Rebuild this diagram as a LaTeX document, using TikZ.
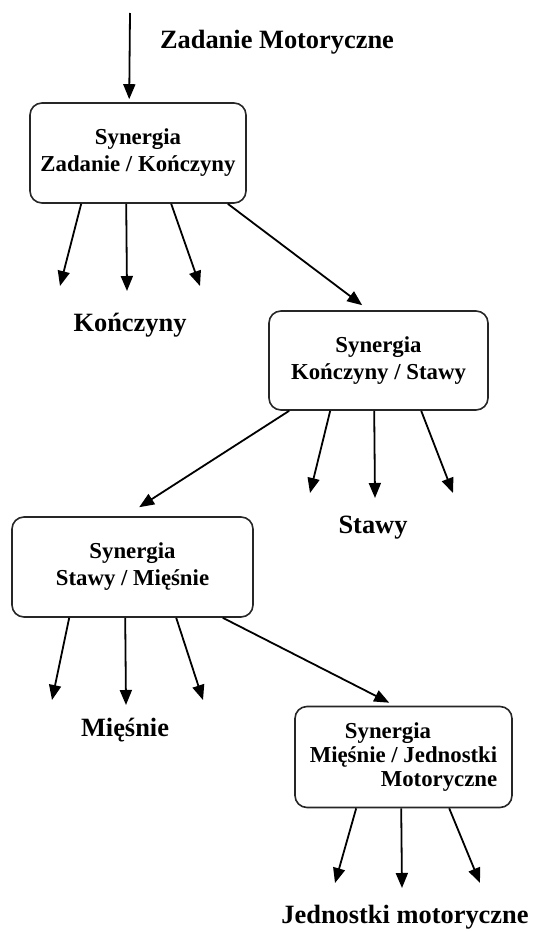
\documentclass[tikz,border=0pt]{standalone}
\usepackage{fontspec}
\setmainfont{Liberation Serif}
\usetikzlibrary{calc, positioning, arrows.meta}
\tikzset{
  arr/.style={-{Triangle[length=7.5pt,width=6pt]}, line width=0.9pt},
}

\begin{document}
\begin{tikzpicture}[x=0.5pt,y=-0.5pt]
\tikzstyle{synbox} = [draw=black!85, line width=0.8pt, rounded corners=6pt, align=center, inner sep=0pt, font=\bfseries\fontsize{11.4}{13.5}\selectfont]
\tikzstyle{lbl} = [font=\bfseries\fontsize{13.2}{15}\selectfont, inner sep=0pt]
\useasboundingbox (0,0) rectangle (532,932);

\node[synbox, minimum width=108pt, minimum height=50pt] (b1) at (138,153) {Synergia\\Zadanie / Kończyny};
\node[synbox, minimum width=109.5pt, minimum height=49.5pt] (b2) at (378.5,360.5) {Synergia\\Kończyny / Stawy};
\node[synbox, minimum width=120.5pt, minimum height=50pt] (b3) at (132.5,567) {Synergia\\Stawy / Mięśnie};
\node[synbox, minimum width=108.5pt, minimum height=50.5pt, align=right,
  font=\bfseries\fontsize{11.4}{12.2}\selectfont] (b4) at (403.5,757)
  {Synergia\hspace{2.9em}\mbox{}\\Mięśnie / Jednostki\\Motoryczne};

\node[lbl] (zad) at (277,42) {Zadanie Motoryczne};
\node[lbl] (konczyny) at (130,325) {Kończyny};
\node[lbl] (stawy) at (373,528) {Stawy};
\node[lbl] (miesnie) at (125,730) {Mięśnie};
\node[lbl] (jednostki) at (405,917) {Jednostki motoryczne};

% wejscie
\coordinate (start) at (130,13);
\draw[arr] (start) -- ($(b1.north west)+(100,-3)$);

% przejscia miedzy synergiami
\draw[arr] ($(b1.south east)+(-19,0)$) -- ($(b2.north west)+(94,-5)$);
\draw[arr] ($(b2.south west)+(21,0)$) -- ($(b3.north west)+(128,-9)$);
\draw[arr] ($(b3.south east)+(-31,0)$) -- ($(b4.north west)+(95,-3)$);

% wachlarze strzalek
\foreach \b/\sa/\sb/\sc/\ta/\tb/\tc/\ty in {
  b1/52/97/142/60/127/200/286,
  b2/62/106/153/310/375/453/493,
  b3/58/114/165/52/126/203/700,
  b4/62/107/155/335/402/480/883}{
  \coordinate (\b-l) at (\ta,\ty);
  \coordinate (\b-m) at (\tb,\ty+5);
  \coordinate (\b-r) at (\tc,\ty);
  \draw[arr] ($(\b.south west)+(\sa,0)$) -- (\b-l);
  \draw[arr] ($(\b.south west)+(\sb,0)$) -- (\b-m);
  \draw[arr] ($(\b.south west)+(\sc,0)$) -- (\b-r);
}
\end{tikzpicture}
\end{document}
